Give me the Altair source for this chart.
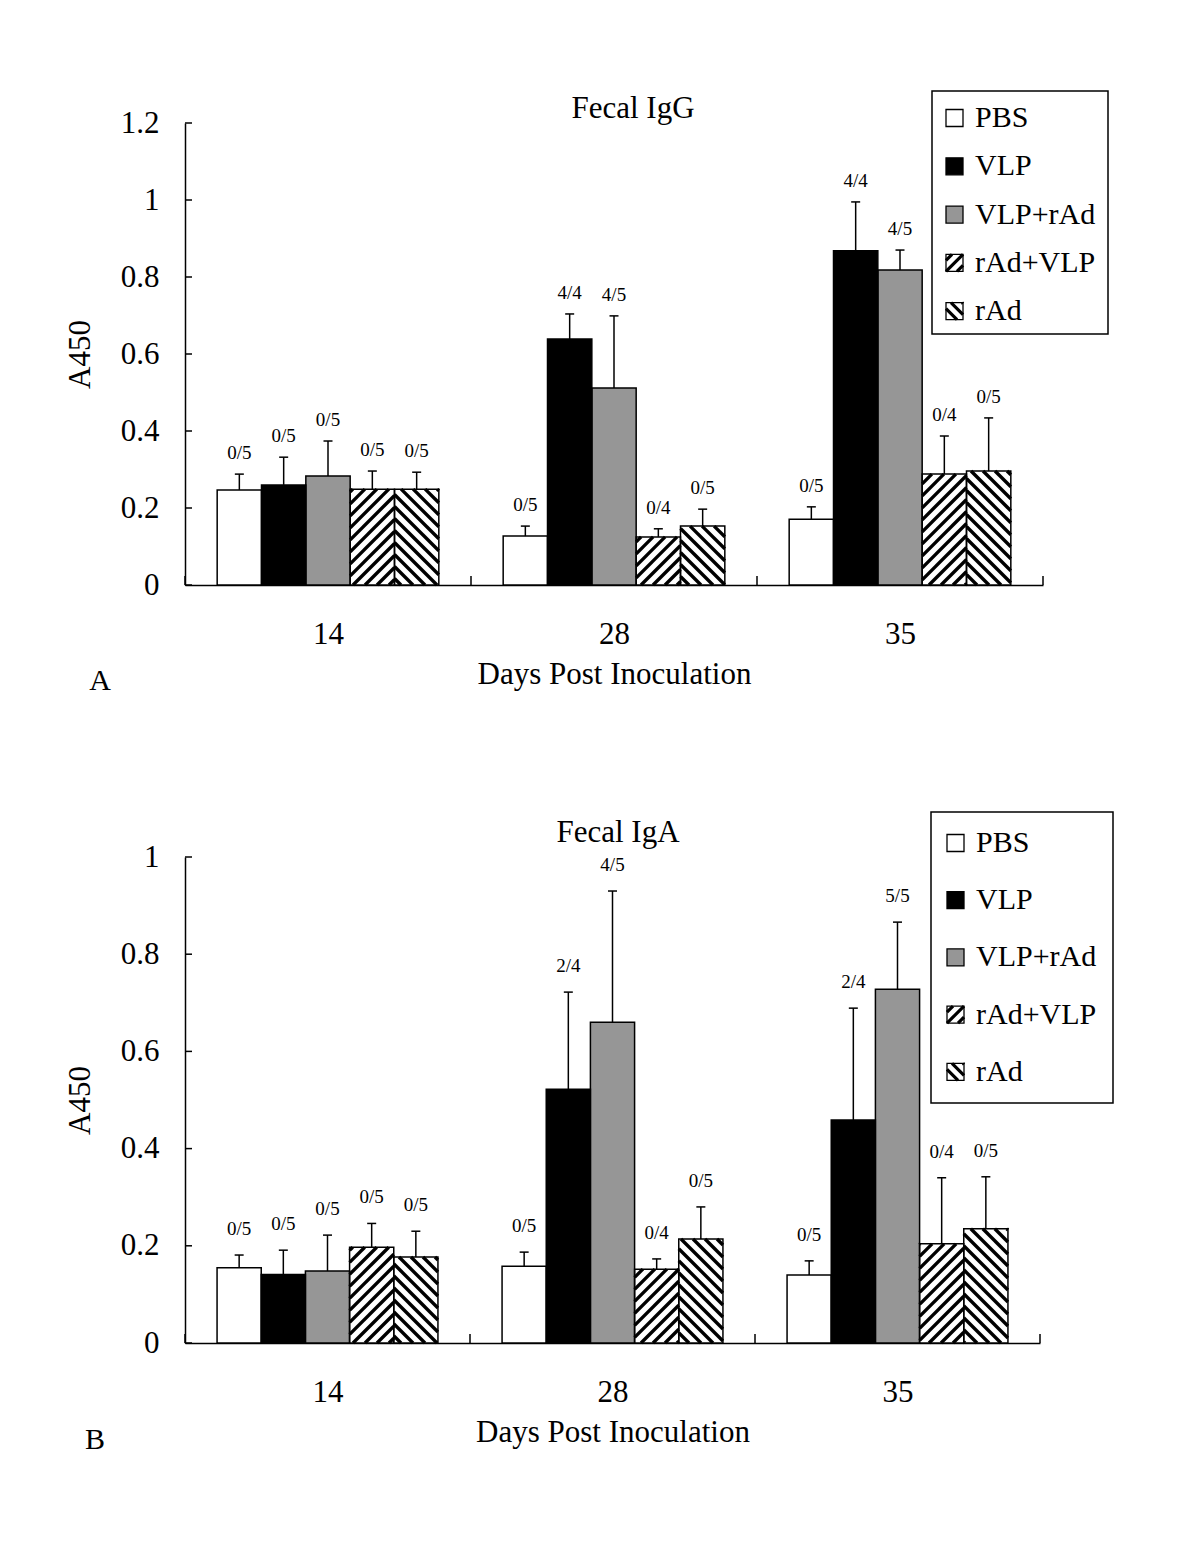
import math
import altair as alt
import pandas as pd

FONT = "Liberation Serif"

days = ["14", "28", "35"]
series = ["PBS", "VLP", "VLP+rAd", "rAd+VLP", "rAd"]
fills = ["white", "black", "#969696", "white", "white"]
hatches = ["", "", "", "/", "\\"]

# Panel A: Fecal IgG (rows = days, columns = series)
igg_mean = [[0.247, 0.260, 0.283, 0.249, 0.249],
            [0.127, 0.639, 0.512, 0.125, 0.153],
            [0.171, 0.868, 0.818, 0.288, 0.296]]
igg_sd = [[0.041, 0.072, 0.091, 0.047, 0.044],
          [0.026, 0.065, 0.187, 0.021, 0.044],
          [0.032, 0.127, 0.052, 0.099, 0.138]]
igg_lab = [["0/5", "0/5", "0/5", "0/5", "0/5"],
           ["0/5", "4/4", "4/5", "0/4", "0/5"],
           ["0/5", "4/4", "4/5", "0/4", "0/5"]]
igg_ticks = [0, 0.2, 0.4, 0.6, 0.8, 1.0, 1.2]

# Panel B: Fecal IgA
iga_mean = [[0.155, 0.141, 0.148, 0.197, 0.177],
            [0.158, 0.522, 0.660, 0.152, 0.214],
            [0.140, 0.459, 0.728, 0.204, 0.235]]
iga_sd = [[0.026, 0.050, 0.074, 0.049, 0.053],
          [0.029, 0.200, 0.270, 0.021, 0.066],
          [0.029, 0.230, 0.138, 0.136, 0.107]]
iga_lab = [["0/5", "0/5", "0/5", "0/5", "0/5"],
           ["0/5", "2/4", "4/5", "0/4", "0/5"],
           ["0/5", "2/4", "5/5", "0/4", "0/5"]]
iga_ticks = [0, 0.2, 0.4, 0.6, 0.8, 1.0]

BW = 0.155      # bar width as fraction of a day group
PERIOD = 12.0   # hatch period (px, horizontal)
HW = 3.4        # hatch stroke width


def hatch_segments(x0, x1, y0, y1, kind, period=PERIOD):
    """Segments of 45-degree hatch lines clipped to a rectangle (y up)."""
    segs = []
    if kind == "/":
        kmin, kmax = y0 - x1, y1 - x0
        k = math.floor(kmin / period) * period
        while k <= kmax:
            xa, xb = max(x0, y0 - k), min(x1, y1 - k)
            if xb - xa > 0.3:
                segs.append((xa, xa + k, xb, xb + k))
            k += period
    elif kind == "\\":
        kmin, kmax = x0 + y0, x1 + y1
        k = math.floor(kmin / period) * period
        while k <= kmax:
            xa, xb = max(x0, k - y1), min(x1, k - y0)
            if xb - xa > 0.3:
                segs.append((xa, k - xa, xb, k - xb))
            k += period
    return segs


def panel(mean, sd, labs, ticks, ymax, W, H, title, title_xy, letter,
          letter_xy, legend_box, legend_rows, sw_x, text_x, lab_gap):
    ux = W / 3.0          # px per x unit
    uy = H / ymax         # px per y unit
    rows, hrows = [], []
    for g, d in enumerate(days):
        for s, name in enumerate(series):
            xc = g + 0.5 + (s - 2) * BW
            x0, x1 = xc - BW / 2, xc + BW / 2
            m = mean[g][s]
            top = m + sd[g][s]
            rows.append(dict(day=d, series=name, fillc=fills[s], x0=x0, x1=x1,
                             xc=xc, cx0=xc - 4.5 / ux, cx1=xc + 4.5 / ux,
                             mean=m, top=top, zero=0.0, lab=labs[g][s]))
            if hatches[s]:
                for (xa, ya, xb, yb) in hatch_segments(x0 * ux, x1 * ux, 0.0, m * uy, hatches[s]):
                    hrows.append(dict(hx=xa / ux, hy=ya / uy, hx2=xb / ux, hy2=yb / uy))
    df = pd.DataFrame(rows)
    hdf = pd.DataFrame(hrows)

    xscale = alt.Scale(domain=[0, 3], nice=False, zero=False)
    yscale = alt.Scale(domain=[0, ymax], nice=False)
    label_expr = f"{days}[floor(datum.value)]"

    bars = alt.Chart(df).mark_rect().encode(
        x=alt.X("x0:Q", scale=xscale,
                axis=alt.Axis(values=[0.5, 1.5, 2.5], labelExpr=label_expr, ticks=False,
                              tickSize=0, labelPadding=34, title="Days Post Inoculation",
                              titlePadding=10, labelFlush=False)),
        x2="x1:Q",
        y=alt.Y("mean:Q", scale=yscale,
                axis=alt.Axis(values=ticks, format="~g", ticks=False, tickSize=0,
                              labelPadding=26, title="A450", titlePadding=24)),
        y2="zero:Q",
        fill=alt.Fill("fillc:N", scale=None),
    )
    hatch = alt.Chart(hdf).mark_rule(color="black", strokeWidth=HW).encode(
        x="hx:Q", x2="hx2:Q", y="hy:Q", y2="hy2:Q")
    borders = alt.Chart(df).mark_rect(fillOpacity=0, stroke="black", strokeWidth=1.5).encode(
        x="x0:Q", x2="x1:Q", y="mean:Q", y2="zero:Q")
    err = alt.Chart(df).mark_rule(color="black", strokeWidth=1.5).encode(
        x="xc:Q", y="mean:Q", y2="top:Q")
    cap = alt.Chart(df).mark_rule(color="black", strokeWidth=1.5).encode(
        x="cx0:Q", x2="cx1:Q", y="top:Q")
    text = alt.Chart(df).mark_text(font=FONT, fontSize=19, baseline="bottom",
                                   dy=-lab_gap, color="black").encode(
        x="xc:Q", y="top:Q", text="lab:N")

    ytk = alt.Chart(pd.DataFrame({"v": ticks})).mark_rule(color="black", strokeWidth=1.5).encode(
        y="v:Q", x=alt.value(0), x2=alt.value(7))
    xtk = alt.Chart(pd.DataFrame({"b": [0, 1, 2, 3]})).mark_rule(color="black", strokeWidth=1.5).encode(
        x="b:Q", y=alt.value(H), y2=alt.value(H - 9))

    one = pd.DataFrame({"a": [0]})
    ttl = alt.Chart(one).mark_text(text=title, font=FONT, fontSize=31, color="black",
                                   baseline="middle").encode(
        x=alt.value(title_xy[0]), y=alt.value(title_xy[1]))
    let = alt.Chart(one).mark_text(text=letter, font=FONT, fontSize=30, color="black",
                                   baseline="middle").encode(
        x=alt.value(letter_xy[0]), y=alt.value(letter_xy[1]))

    # legend
    bl, bt, br, bb = legend_box
    box = alt.Chart(one).mark_rect(fill="white", stroke="black", strokeWidth=1.5).encode(
        x=alt.value(bl), x2=alt.value(br), y=alt.value(bt), y2=alt.value(bb))
    SW = 17
    lrows, lh = [], []
    for i, name in enumerate(series):
        cy = legend_rows[0] + i * legend_rows[1]
        lrows.append(dict(series=name, fillc=fills[i], lx0=sw_x, lx1=sw_x + SW,
                          ly0=cy - SW / 2, ly1=cy + SW / 2, ly=cy, tx=text_x))
        if hatches[i]:
            for (xa, ya, xb, yb) in hatch_segments(0, SW, 0, SW, hatches[i], period=11.0):
                lh.append(dict(a=sw_x + xa, b=cy + SW / 2 - ya, c=sw_x + xb, d=cy + SW / 2 - yb))
    ldf = pd.DataFrame(lrows)
    lhdf = pd.DataFrame(lh)
    sw = alt.Chart(ldf).mark_rect().encode(
        x=alt.X("lx0:Q", scale=None, axis=None), x2="lx1:Q",
        y=alt.Y("ly0:Q", scale=None, axis=None), y2="ly1:Q",
        fill=alt.Fill("fillc:N", scale=None))
    swh = alt.Chart(lhdf).mark_rule(color="black", strokeWidth=3.2).encode(
        x=alt.X("a:Q", scale=None, axis=None), x2="c:Q",
        y=alt.Y("b:Q", scale=None, axis=None), y2="d:Q")
    swb = alt.Chart(ldf).mark_rect(fillOpacity=0, stroke="black", strokeWidth=1.3).encode(
        x=alt.X("lx0:Q", scale=None, axis=None), x2="lx1:Q",
        y=alt.Y("ly0:Q", scale=None, axis=None), y2="ly1:Q")
    ltx = alt.Chart(ldf).mark_text(font=FONT, fontSize=30, align="left", baseline="middle",
                                   color="black").encode(
        x=alt.X("tx:Q", scale=None, axis=None),
        y=alt.Y("ly:Q", scale=None, axis=None), text="series:N")

    return alt.layer(bars, hatch, borders, err, cap, text, ytk, xtk, ttl, let,
                     box, sw, swh, swb, ltx).properties(width=W, height=H)


pA = panel(igg_mean, igg_sd, igg_lab, igg_ticks, 1.2, 858, 462, "Fecal IgG", (448, -14),
           "A", (-85, 558), (747, -32, 923, 211), (-5, 48.3), 761, 790, 11)
pB = panel(iga_mean, iga_sd, iga_lab, iga_ticks, 1.0, 855, 486, "Fecal IgA", (433, -24),
           "B", (-90, 583), (746, -45, 928, 246), (-14, 57.2), 762, 791, 16)

chart = alt.vconcat(pA, pB, spacing=115).properties(
    padding={"left": 56, "top": 82, "right": 20, "bottom": 20}
).configure_view(stroke=None).configure_axis(
    labelFont=FONT, titleFont=FONT, labelFontSize=31, titleFontSize=31,
    titleFontWeight="normal", labelColor="black", titleColor="black",
    domainColor="black", domainWidth=1.5, grid=False
)

chart.save("out.html", embed_options={"renderer": "svg", "actions": False})
